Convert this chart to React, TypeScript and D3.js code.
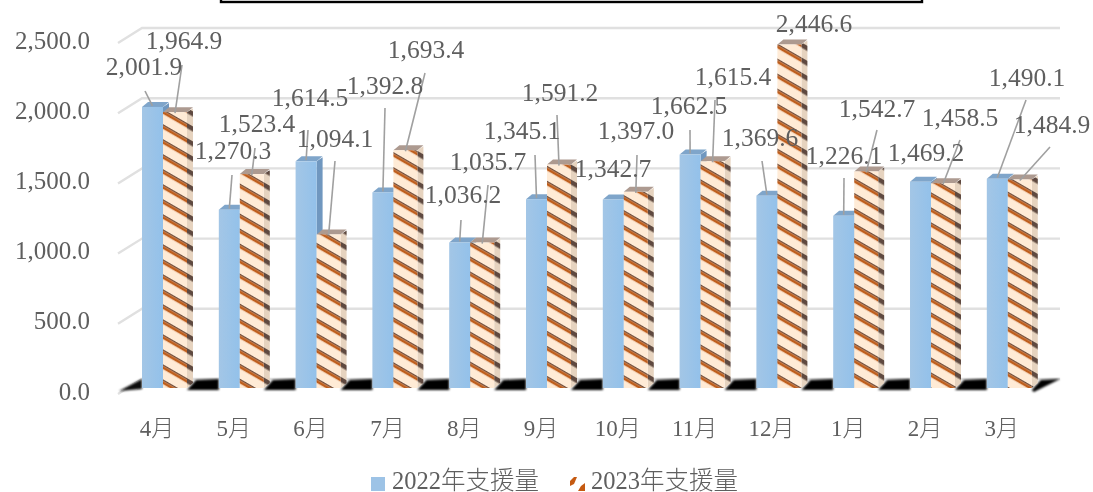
import React from "react";
import * as d3 from "d3";

const months = ["4月","5月","6月","7月","8月","9月","10月","11月","12月","1月","2月","3月"];
const series2022 = [2001.9,1270.3,1614.5,1392.8,1036.2,1345.1,1342.7,1662.5,1369.6,1226.1,1469.2,1490.1];
const series2023 = [1964.9,1523.4,1094.1,1693.4,1035.7,1591.2,1397.0,1615.4,2446.6,1542.7,1458.5,1484.9];
const yTicks = [0,500,1000,1500,2000,2500];
const seriesNames = ["2022年支援量","2023年支援量"];

// label placement (centre x, centre y, leader start x, leader start y; leader start 0 = no leader)
const place2022 = [[144,66,145,91],[233,150,232,175],[310,97,308,130],[385,85,385,108],[463,194,461,220],[522,130,535,155],[613,168,0,0],[689,105,690,130],[760,137,762,161],[844,155,844,178],[926,152,0,0],[1027,77,1026,100]];
const place2023 = [[184,40,182,65],[257,123,255,148],[335,138,335,161],[426,49,425,73],[488,161,488,185],[560,92,557,115],[636,130,637,155],[733,76,715,100],[814,23,0,0],[877,108,877,130],[960,117,960,140],[1052,124,1050,147]];

const W = 1093, H = 492;
const x = d3.scaleBand<string>().domain(months).range([119, 119 + 76.8 * 12]);
const y = d3.scaleLinear().domain([0, 2500]).range([388, 37]);
const fmt = d3.format(",.1f");
const sw = 21, ow = 24, dx = 6, dy = 5;
const textCol = "#5E5E5E";
const font = "'Liberation Serif','Noto Sans CJK JP',serif";
const poly = (p: number[][]) => p.map(q => q.join(",")).join(" ");

function Bar({ x0, w, v, front, side, top }: any) {
  const yt = y(v), yb = y(0);
  return (
    <g>
      <polygon points={poly([[x0 + w, yt], [x0 + w + dx, yt - dy + 1], [x0 + w + dx, yb - 5], [x0 + w, yb]])} fill={side} />
      <polygon points={poly([[x0, yt], [x0 + dx, yt - dy], [x0 + w + dx, yt - dy], [x0 + w, yt]])} fill={top} />
      <rect x={x0} y={yt} width={w} height={yb - yt} fill={front} />
    </g>
  );
}

export default function App() {
  const start = (m: string) => (x(m) as number) + 23;
  return (
    <svg width={W} height={H} viewBox={`0 0 ${W} ${H}`} style={{ position: "absolute", left: 0, top: 0, background: "#fff" }}>
      <defs>
        <pattern id="st" patternUnits="userSpaceOnUse" width="24" height="13" patternTransform="rotate(30)">
          <rect width="24" height="13" fill="#FFEBD6" />
          <rect y="0" width="24" height="1.4" fill="#6F4E3E" />
          <rect y="1.4" width="24" height="2.8" fill="#BF5E1E" />
        </pattern>
        <pattern id="stSide" patternUnits="userSpaceOnUse" width="24" height="13" patternTransform="rotate(30)">
          <rect width="24" height="13" fill="#E6D3BF" />
          <rect y="0" width="24" height="4.5" fill="#5E4A40" />
        </pattern>
        <linearGradient id="blue" x1="0" x2="1" y1="0" y2="0">
          <stop offset="0" stopColor="#A3C6E6" />
          <stop offset="1" stopColor="#93C1EA" />
        </linearGradient>
        <filter id="soft" x="-2%" y="-2%" width="104%" height="104%"><feGaussianBlur stdDeviation="0.6" /></filter>
        <filter id="softFloor" x="-5%" y="-20%" width="110%" height="140%"><feGaussianBlur stdDeviation="1" /></filter>
        <filter id="softText" x="-2%" y="-2%" width="104%" height="104%"><feGaussianBlur stdDeviation="0.35" /></filter>
      </defs>

      <rect x={221} y={-10} width={701} height={12} fill="#fff" stroke="#000" strokeWidth={2.4} />

      <g filter="url(#soft)">
        {yTicks.map(t => (
          <polyline key={t} points={poly([[118, y(t) + 6], [142, y(t) - 9], [1060, y(t) - 9]])} fill="none" stroke="#E0E0E0" strokeWidth={2.4} />
        ))}
      </g>
      <g filter="url(#softFloor)">
        <polygon points={poly([[119, 391], [142, 379], [142, 389]])} fill="#111" />
        {months.map(m => {
          const a = start(m) + sw + ow;
          const last = m === "3月";
          const b = last ? 1060 : start(m) + 76.8;
          return <polygon key={m} points={poly([[a, 390], [a + 9, 380], [b, 379], [last ? a + 2 : b, last ? 392 : 390]])} fill="#050505" />;
        })}
      </g>
      <g filter="url(#soft)">
        {months.map((m, i) => (
          <g key={m}>
            <Bar x0={start(m)} w={sw} v={series2022[i]} front="url(#blue)" side="#6F97BF" top="#7FA5CA" />
            <Bar x0={start(m) + sw} w={ow} v={series2023[i]} front="url(#st)" side="url(#stSide)" top="#AD9A90" />
          </g>
        ))}
        {months.map((m, i) => {
          const a = place2022[i], b = place2023[i];
          const bx = start(m) + sw / 2, ox = start(m) + sw + ow / 2;
          return (
            <g key={m} stroke="#A0A0A0" strokeWidth={1.6}>
              {a[2] > 0 && <line x1={a[2]} y1={a[3]} x2={bx} y2={y(series2022[i]) - 1} />}
              {b[2] > 0 && <line x1={b[2]} y1={b[3]} x2={ox} y2={y(series2023[i]) + 1} />}
            </g>
          );
        })}
      </g>

      <g fontFamily={font} fill={textCol} filter="url(#softText)">
        {yTicks.map(t => (
          <text key={t} x={90} y={y(t) + 3} textAnchor="end" dominantBaseline="central" fontSize={25}>{fmt(t)}</text>
        ))}
        {months.map(m => (
          <text key={m} x={(x(m) as number) + 38} y={428} textAnchor="middle" dominantBaseline="central" fontSize={23} fontWeight={300}>{m}</text>
        ))}
        {months.map((m, i) => (
          <g key={m} fontSize={25.5}>
            <text x={place2022[i][0]} y={place2022[i][1]} textAnchor="middle" dominantBaseline="central">{fmt(series2022[i])}</text>
            <text x={place2023[i][0]} y={place2023[i][1]} textAnchor="middle" dominantBaseline="central">{fmt(series2023[i])}</text>
          </g>
        ))}
        <text x={392} y={480} dominantBaseline="central" fontSize={24.5} fontWeight={300}>{seriesNames[0]}</text>
        <text x={591} y={480} dominantBaseline="central" fontSize={24.5} fontWeight={300}>{seriesNames[1]}</text>
      </g>

      <rect x={371} y={477} width={14} height={14} fill="#9DC3E6" />
      <polygon points={poly([[570, 481], [574, 477], [577, 477], [574, 484], [570, 486]])} fill="#C55A11" />
      <polygon points={poly([[578, 491], [581, 486], [585, 483], [585, 491]])} fill="#C55A11" />
    </svg>
  );
}
